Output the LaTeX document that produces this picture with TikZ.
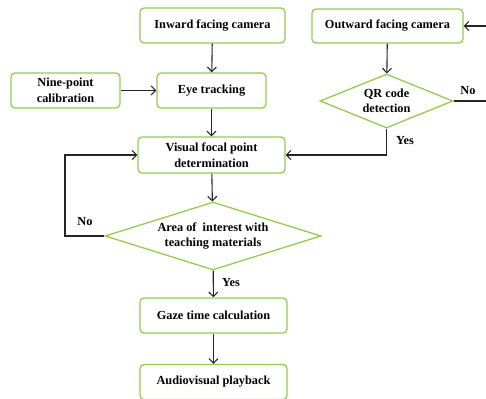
\documentclass[tikz,border=0pt]{standalone}
\usepackage{fontspec}
\setmainfont{Liberation Serif}
\usetikzlibrary{shapes.geometric,arrows.meta}
\definecolor{lgreen}{RGB}{146,205,80}
\tikzset{
  box/.style={draw=lgreen, line width=1.3pt, rounded corners=4pt, fill=white, align=center, font=\bfseries\fontsize{12.3}{15.5}\selectfont, inner sep=0pt},
  dia/.style={draw=lgreen, line width=1.3pt, diamond, fill=white, align=center, font=\bfseries\fontsize{12.3}{15.5}\selectfont, inner sep=0pt},
  arr/.style={draw=black!85, line width=1.1pt, -{Straight Barb[length=4.5pt,width=9pt]}},
  ln/.style={draw=black!85, line width=1.1pt},
  lab/.style={font=\bfseries\fontsize{12.3}{15.5}\selectfont, inner sep=0pt}
}
\begin{document}
\begin{tikzpicture}[x=1pt,y=-1pt]
\useasboundingbox (0,0) rectangle (486,398);
\node[box, minimum width=145pt, minimum height=35pt] (inward) at (212.5,25.5) {Inward facing camera};
\node[box, minimum width=151pt, minimum height=34pt] (outward) at (387.5,26) {Outward facing camera};
\node[box, minimum width=109pt, minimum height=35pt] (nine) at (65.5,90.5) {Nine-point\\calibration};
\node[box, minimum width=109pt, minimum height=35pt] (eye) at (211.5,90.5) {Eye tracking};
\node[dia, minimum width=133pt, minimum height=54pt, aspect=2.46] (qr) at (386.5,101) {QR code\\detection};
\node[box, minimum width=147pt, minimum height=36pt] (visual) at (211.5,155) {Visual focal point\\determination};
\node[dia, minimum width=216pt, minimum height=68pt, aspect=3.18] (area) at (213,236) {Area of\ \ interest with\\teaching materials};
\node[box, minimum width=147pt, minimum height=35pt] (gaze) at (213.5,315.5) {Gaze time calculation};
\node[box, minimum width=147pt, minimum height=35pt] (audio) at (213.5,382) {Audiovisual playback};

\coordinate (inR) at (486,26);
\coordinate (outR) at (486,101);
\coordinate (loopL) at (65,0);

\draw[arr] (inward) -- (eye);
\draw[arr] (nine) -- (eye);
\draw[arr] (eye) -- (visual);
\draw[arr] (inR) -- (outward);
\draw[arr] (outward) -- (qr);
\draw[ln] (qr.east) -- (outR);
\draw[arr] (qr.south) |- (visual.east);
\draw[arr] (visual) -- (area);
\draw[arr] (area.west) -| (loopL |- area.west) |- (visual.west);
\draw[arr] (area) -- (gaze);
\draw[arr] (gaze) -- (audio);

\node[lab] (noqr) at (468,91) {No};
\node[lab] (yesqr) at (405,141) {Yes};
\node[lab] (noarea) at (85,222) {No};
\node[lab] (yesarea) at (231,283) {Yes};
\end{tikzpicture}
\end{document}
